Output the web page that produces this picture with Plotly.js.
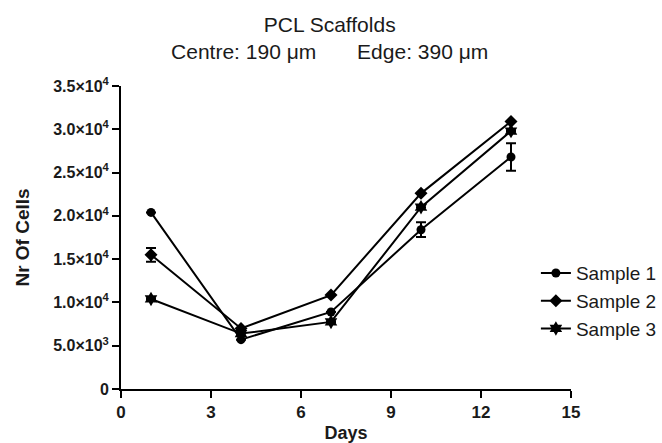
<!DOCTYPE html>
<html>
<head>
<meta charset="utf-8">
<script src="https://cdn.plot.ly/plotly-3.0.1.min.js"></script>
<style>html,body{margin:0;padding:0;background:#fff;}#chart{width:662px;height:443px;}</style>
</head>
<body>
<div id="chart"></div>
<script>
const days = [1, 4, 7, 10, 13];
const sample1 = [20400, 5700, 8900, 18400, 26800];
const sample1Err = [0, 0, 0, 850, 1600];
const sample2 = [15500, 7000, 10850, 22600, 30900];
const sample2Err = [800, 0, 0, 0, 0];
const sample3 = [10400, 6400, 7750, 21000, 29800];
const sample3Err = [0, 0, 0, 0, 0];
const seriesNames = ["Sample 1", "Sample 2", "Sample 3"];
const yTickVals = [0, 5000, 10000, 15000, 20000, 25000, 30000, 35000];
const yTickText = ["0", "5.0×10<sup>3</sup>", "1.0×10<sup>4</sup>", "1.5×10<sup>4</sup>", "2.0×10<sup>4</sup>", "2.5×10<sup>4</sup>", "3.0×10<sup>4</sup>", "3.5×10<sup>4</sup>"];
const xTickVals = [0, 3, 6, 9, 12, 15];

function trace(name, y, err, symbol, size) {
  return {
    x: days, y: y, name: name, type: 'scatter', mode: 'lines+markers',
    line: {color: '#000', width: 2},
    marker: {color: '#000', symbol: symbol, size: size},
    error_y: {type: 'data', array: err, visible: true, color: '#000', thickness: 2, width: 5}
  };
}
const data = [
  trace(seriesNames[0], sample1, sample1Err, 'circle', 9),
  trace(seriesNames[1], sample2, sample2Err, 'diamond', 10),
  trace(seriesNames[2], sample3, sample3Err, 'hexagram', 11)
];
const nb = '\u00a0';
const layout = {
  width: 662, height: 443,
  margin: {l: 121, r: 91, t: 86, b: 54, autoexpand: false},
  paper_bgcolor: '#fff', plot_bgcolor: '#fff',
  font: {family: 'Liberation Sans, Arial, sans-serif', color: '#000'},
  title: {text: 'PCL Scaffolds<br>Centre: 190 μm' + nb.repeat(7) + 'Edge: 390 μm', font: {size: 21, color: '#1a1a1a'}, x: 0.498, xref: 'container', y: 0.928, yref: 'container', yanchor: 'top'},
  showlegend: true,
  legend: {x: 0.922, xanchor: 'left', y: 0.445, yanchor: 'top', font: {size: 19, color: '#1a1a1a'}, bgcolor: 'rgba(0,0,0,0)'},
  xaxis: {
    range: [0, 15], tickvals: xTickVals, ticktext: xTickVals.map(v => '<b>' + v + '</b>'),
    showgrid: false, zeroline: false, showline: true, linecolor: '#000', linewidth: 2,
    ticks: 'outside', ticklen: 7, tickwidth: 2, tickcolor: '#000',
    tickfont: {size: 17, color: '#1a1a1a'},
    title: {text: '<b>Days</b>', font: {size: 18, color: '#1a1a1a'}, standoff: 8}
  },
  yaxis: {
    range: [0, 35000], tickvals: yTickVals, ticktext: yTickText.map(t => '<b>' + t + '</b>'),
    showgrid: false, zeroline: false, showline: true, linecolor: '#000', linewidth: 2,
    ticks: 'outside', ticklen: 7, tickwidth: 2, tickcolor: '#000',
    tickfont: {size: 16, color: '#1a1a1a'},
    title: {text: '<b>Nr Of Cells</b>', font: {size: 19, color: '#1a1a1a'}, standoff: 19}
  }
};
Plotly.newPlot('chart', data, layout, {displayModeBar: false, staticPlot: true});
</script>
</body>
</html>
